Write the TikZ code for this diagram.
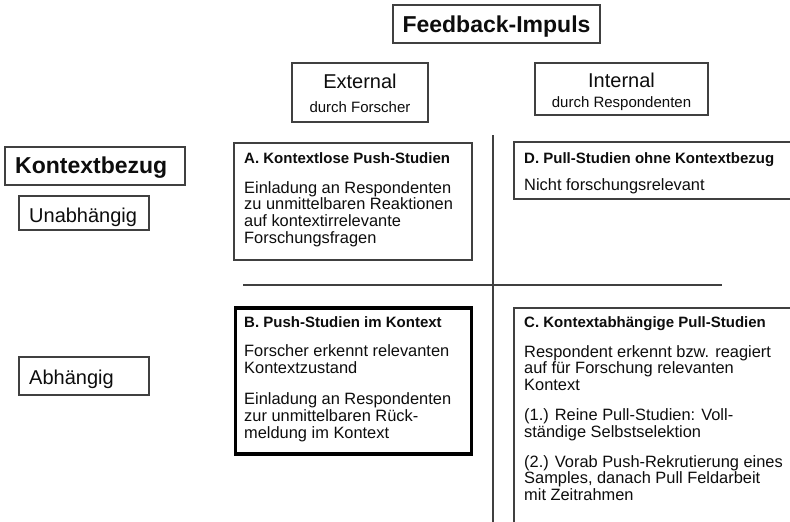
\documentclass[tikz,border=0pt]{standalone}
\usepackage{fontspec}
\setmainfont{Liberation Sans}
\newcommand\lbx[1]{\hbox{#1}}
\newcommand\pgap[1]{\vskip#1pt}
\newcommand\bodyfont{\fontsize{16.4}{16.7}\selectfont}
\newcommand\headfont{\fontsize{15}{16.7}\selectfont\bfseries}
\begin{document}
\begin{tikzpicture}[x=1pt,y=-1pt,
  frame/.style={draw=black!75, line width=1.2pt, inner sep=0, outer sep=0, anchor=north west},
  thickframe/.style={frame, draw=black, line width=3.6pt},
  txt/.style={inner sep=0, anchor=base west, text=black!95, font=\bodyfont},
  ctr/.style={inner sep=0, anchor=base, text=black!95},
  rule/.style={draw=black!75, line width=1.2pt}]
\useasboundingbox (0,0) rectangle (790,522);
\clip (0,0) rectangle (790,522);
\fill[white] (0,0) rectangle (790,522);

% title
\node[frame, minimum width=207, minimum height=38] (fbbox) at (393,5) {};
\node[ctr, font=\fontsize{23}{23}\selectfont\bfseries] (fb) at (496.5,32) {Feedback-Impuls};

% column headers
\node[frame, minimum width=136, minimum height=59] (extbox) at (292,63) {};
\node[ctr, font=\fontsize{20}{20}\selectfont] (ext) at (360,88) {External};
\node[ctr, font=\fontsize{15}{15}\selectfont] (extsub) at (360,112) {durch Forscher};

\node[frame, minimum width=173, minimum height=52] (intbox) at (535,63) {};
\node[ctr, font=\fontsize{20}{20}\selectfont] (int) at (621.5,87) {Internal};
\node[ctr, font=\fontsize{15}{15}\selectfont] (intsub) at (621.5,107) {durch Respondenten};

% row headers
\node[frame, minimum width=180, minimum height=38] (kbbox) at (5,147) {};
\node[txt, font=\fontsize{23}{23}\selectfont\bfseries] (kb) at (15,173) {Kontextbezug};

\node[frame, minimum width=130, minimum height=34] (unbox) at (19,196) {};
\node[txt, font=\fontsize{20}{20}\selectfont] (un) at (29,222) {Unabhängig};

\node[frame, minimum width=130, minimum height=38] (abbox) at (19,357) {};
\node[txt, font=\fontsize{20}{20}\selectfont] (ab) at (29,384) {Abhängig};

% quadrant dividers
\coordinate (vtop) at (493,135);
\coordinate (vbot) at (493,530);
\coordinate (hl) at (243,285);
\coordinate (hr) at (722,285);
\draw[rule] (vtop) -- (vbot);
\draw[rule] (hl) -- (hr);

% A
\node[frame, minimum width=238, minimum height=117] (abox) at (234,143) {};
\node[txt] (atext) at (244,163) {\vtop{%
  \lbx{\headfont A. Kontextlose Push-Studien}\pgap{13.3}%
  \lbx{Einladung an Respondenten}%
  \lbx{zu unmittelbaren Reaktionen}%
  \lbx{auf kontextirrelevante}%
  \lbx{Forschungsfragen}}};

% D
\node[frame, minimum width=300, minimum height=57] (dbox) at (514,142) {};
\node[txt] (dtext) at (524,163) {\vtop{%
  \lbx{\headfont D. Pull-Studien ohne Kontextbezug}\pgap{10.5}%
  \lbx{Nicht forschungsrelevant}}};

% B
\node[thickframe, minimum width=236, minimum height=146.3] (bbox) at (235.3,307.7) {};
\node[txt] (btext) at (244,327) {\vtop{%
  \lbx{\headfont B. Push-Studien im Kontext}\pgap{12.6}%
  \lbx{Forscher erkennt relevanten}%
  \lbx{Kontextzustand}\pgap{15}%
  \lbx{Einladung an Respondenten}%
  \lbx{zur unmittelbaren Rück-}%
  \lbx{meldung im Kontext}}};

% C
\node[frame, minimum width=300, minimum height=240] (cbox) at (514,308) {};
\node[txt] (ctext) at (524,327) {\vtop{%
  \lbx{\headfont C. Kontextabhängige Pull-Studien}\pgap{13.3}%
  \lbx{Respondent erkennt bzw. reagiert}%
  \lbx{auf für Forschung relevanten}%
  \lbx{Kontext}\pgap{13.3}%
  \lbx{(1.) Reine Pull-Studien: Voll-}%
  \lbx{ständige Selbstselektion}\pgap{13.3}%
  \lbx{(2.) Vorab Push-Rekrutierung eines}%
  \lbx{Samples, danach Pull Feldarbeit}%
  \lbx{mit Zeitrahmen}}};
\end{tikzpicture}
\end{document}
